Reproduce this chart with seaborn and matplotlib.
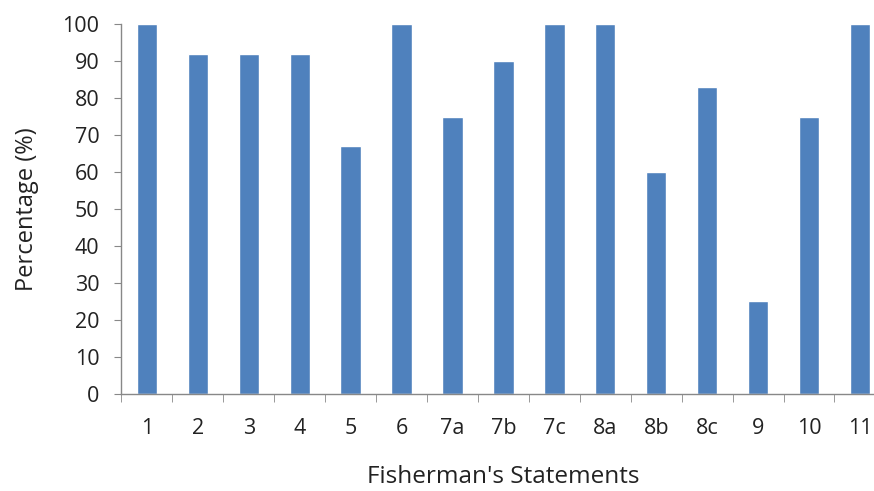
import numpy as np
import matplotlib
matplotlib.use("Agg")
import matplotlib.pyplot as plt
from matplotlib.ticker import FixedLocator
import seaborn as sns

# values
statements = ["1", "2", "3", "4", "5", "6", "7a", "7b", "7c", "8a", "8b", "8c", "9", "10", "11"]
percent = [100, 92, 92, 92, 67, 100, 75, 90, 100, 100, 60, 83, 25, 75, 100]

sns.set_style("white")
plt.rcParams["font.family"] = ["Open Sans", "DejaVu Sans"]

fig = plt.figure(figsize=(8.74, 4.91), dpi=100)
ax = fig.add_axes([0.139, 0.1976, 0.874, 0.7534])

sns.barplot(x=statements, y=percent, order=statements, color="#4F81BD",
            saturation=1, width=0.4, ax=ax)

ax.set_ylim(0, 100)
ax.set_xlim(-0.5, len(statements) - 0.5)
ax.set_yticks(range(0, 101, 10))
ax.tick_params(axis="y", labelsize=15.5, length=5, color="#888888", pad=11, left=True)
ax.tick_params(axis="x", which="major", labelsize=15.5, length=0, pad=17)
ax.xaxis.set_minor_locator(FixedLocator(np.arange(-0.5, len(statements), 1.0)))
ax.tick_params(axis="x", which="minor", length=6, color="#888888", bottom=True)

for s in ["top", "right"]:
    ax.spines[s].set_visible(False)
for s in ["left", "bottom"]:
    ax.spines[s].set_color("#888888")
    ax.spines[s].set_linewidth(1)

ax.set_xlabel("Fisherman's Statements", fontsize=17.5, labelpad=19, color="#222222")
ax.set_ylabel("Percentage (%)", fontsize=17, labelpad=17, color="#222222")
for lbl in ax.get_xticklabels() + ax.get_yticklabels():
    lbl.set_color("#222222")

fig.savefig("out.png", dpi=100)
